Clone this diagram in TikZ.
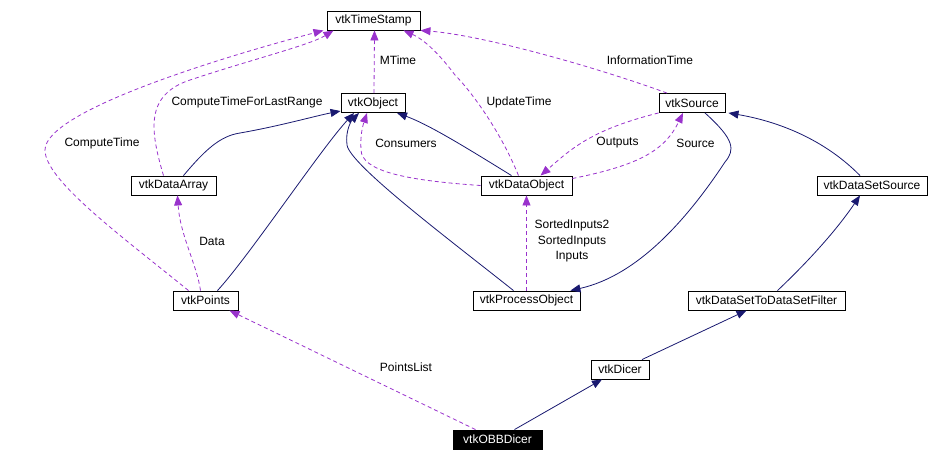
\documentclass[tikz,border=0pt]{standalone}
\usepackage{fontspec}
\setmainfont{Liberation Sans}
\usetikzlibrary{arrows.meta}
\definecolor{inheritblue}{RGB}{25,25,112}
\definecolor{usepurple}{RGB}{153,50,204}
\tikzset{
    cls/.style = {
        draw,
        rectangle,
        line width=0.9pt,
        minimum height=19pt,
        inner sep=0pt,
        minimum width=#1,
        font=\fontsize{12}{14}\selectfont
    },
    focus/.style = {
        cls=#1,
        fill=black,
        text=white
    },
    inherit/.style = {
        inheritblue,
        line width=0.8pt,
        -{Triangle[length=10pt,width=8pt]}
    },
    member/.style = {
        usepurple,
        line width=0.8pt,
        dash pattern=on 4pt off 3pt,
        -{Triangle[length=10pt,width=8pt]}
    },
    edgelabel/.style = {
        inner sep=0pt,
        align=center,
        font=\fontsize{12}{15.5}\selectfont
    }
}

\begin{document}
\begin{tikzpicture}[x=1pt,y=-1pt]
    \useasboundingbox (0,0) rectangle (929,461);

    % Draw all classes
    \node[cls=93pt]  (vtkTimeStamp)     at (373.5,20.5)  {vtkTimeStamp};
    \node[cls=64pt]  (vtkObject)        at (373,103)     {vtkObject};
    \node[cls=66pt]  (vtkSource)        at (692,103)     {vtkSource};
    \node[cls=85pt]  (vtkDataArray)     at (173.5,185.5) {vtkDataArray};
    \node[cls=91pt]  (vtkDataObject)    at (526.5,185.5) {vtkDataObject};
    \node[cls=110pt] (vtkDataSetSource) at (872,185.5)   {vtkDataSetSource};
    \node[cls=65pt]  (vtkPoints)        at (205.5,300.5) {vtkPoints};
    \node[cls=107pt] (vtkProcessObject) at (526.5,300.5) {vtkProcessObject};
    \node[cls=157pt] (vtkDataSetToDataSetFilter) at (766.5,300.5) {vtkDataSetToDataSetFilter};
    \node[cls=58pt]  (vtkDicer)         at (620,369.5)   {vtkDicer};
    \node[focus=89pt] (vtkOBBDicer)     at (497.5,439.5) {vtkOBBDicer};

    % Draw inheritance
    \draw[inherit] ([xshift=10pt]vtkDataArray.north) .. controls (205,150) and (220,136) .. (240,133)
        .. controls (280,126) and (315,116) .. ([yshift=-8pt]vtkObject.west);
    \draw[inherit] ([xshift=12pt]vtkPoints.north) .. controls (250,255) and (320,150) .. ([xshift=-19pt]vtkObject.south);
    \draw[inherit] ([xshift=-13pt]vtkProcessObject.north) .. controls (450,240) and (350,165) .. (347,145)
        .. controls (345,130) and (352,120) .. ([xshift=-14pt]vtkObject.south);
    \draw[inherit] ([xshift=-15pt]vtkDataObject.north) .. controls (470,150) and (430,125) .. ([xshift=24pt]vtkObject.south);
    \draw[inherit] ([xshift=-12pt]vtkDataSetSource.north) .. controls (820,135) and (770,120) .. ([xshift=3pt]vtkSource.south east);
    \draw[inherit] ([xshift=13pt]vtkSource.south) .. controls (735,140) and (735,150) .. (725,162)
        .. controls (690,215) and (640,275) .. ([xshift=-10pt]vtkProcessObject.north east);
    \draw[inherit] ([xshift=11pt]vtkDataSetToDataSetFilter.north) .. controls (815,255) and (840,225) .. ([xshift=-12pt]vtkDataSetSource.south);
    \draw[inherit] ([xshift=22pt]vtkDicer.north) -- ([xshift=-20pt]vtkDataSetToDataSetFilter.south);
    \draw[inherit] ([xshift=17pt]vtkOBBDicer.north) -- ([xshift=-18pt]vtkDicer.south);

    % Draw usage
    \draw[member] ([xshift=1pt]vtkObject.north) -- ([xshift=1pt]vtkTimeStamp.south);
    \draw[member] ([xshift=-10pt]vtkDataArray.north) .. controls (150,130) and (145,95) .. (190,80)
        .. controls (250,60) and (310,45) .. ([xshift=-40pt]vtkTimeStamp.south);
    \draw[member] ([xshift=-17pt]vtkPoints.north) .. controls (120,235) and (45,180) .. (45,150)
        .. controls (45,110) and (230,55) .. ([xshift=-50pt]vtkTimeStamp.south);
    \draw[member] ([xshift=-8pt]vtkDataObject.north) .. controls (500,130) and (470,90) .. (455,75)
        .. controls (440,55) and (425,40) .. ([xshift=30pt]vtkTimeStamp.south);
    \draw[member] ([xshift=-25pt]vtkSource.north) .. controls (590,65) and (480,35) .. (vtkTimeStamp.south east);
    \draw[member] (vtkDataObject.west) .. controls (400,180) and (362,170) .. (361,150)
        .. controls (360,135) and (363,125) .. ([xshift=-6pt]vtkObject.south);
    \draw[member] (vtkSource.south west) .. controls (590,130) and (570,150) .. ([xshift=14pt]vtkDataObject.north);
    \draw[member] ([yshift=7pt]vtkDataObject.east) .. controls (640,165) and (665,150) .. ([xshift=-9pt]vtkSource.south);
    \draw[member] (vtkProcessObject.north) -- (vtkDataObject.south);
    \draw[member] ([xshift=-5pt]vtkPoints.north) .. controls (197,265) and (180,235) .. ([xshift=4pt]vtkDataArray.south);
    \draw[member] ([xshift=-22pt]vtkOBBDicer.north) -- ([xshift=24pt]vtkPoints.south);

    % Draw labels
    \node[edgelabel] (lblMTime)       at (398,60)    {MTime};
    \node[edgelabel] (lblLastRange)   at (247,102)   {ComputeTimeForLastRange};
    \node[edgelabel] (lblComputeTime) at (102,143)   {ComputeTime};
    \node[edgelabel] (lblUpdateTime)  at (519,102)   {UpdateTime};
    \node[edgelabel] (lblInfoTime)    at (650,60)    {InformationTime};
    \node[edgelabel] (lblConsumers)   at (406,143)   {Consumers};
    \node[edgelabel] (lblOutputs)     at (617.5,143) {Outputs};
    \node[edgelabel] (lblSource)      at (695.5,143) {Source};
    \node[edgelabel] (lblData)        at (212,241)   {Data};
    \node[edgelabel] (lblInputs)      at (572,241)   {SortedInputs2\\SortedInputs\\Inputs};
    \node[edgelabel] (lblPointsList)  at (406,367)   {PointsList};
\end{tikzpicture}
\end{document}
